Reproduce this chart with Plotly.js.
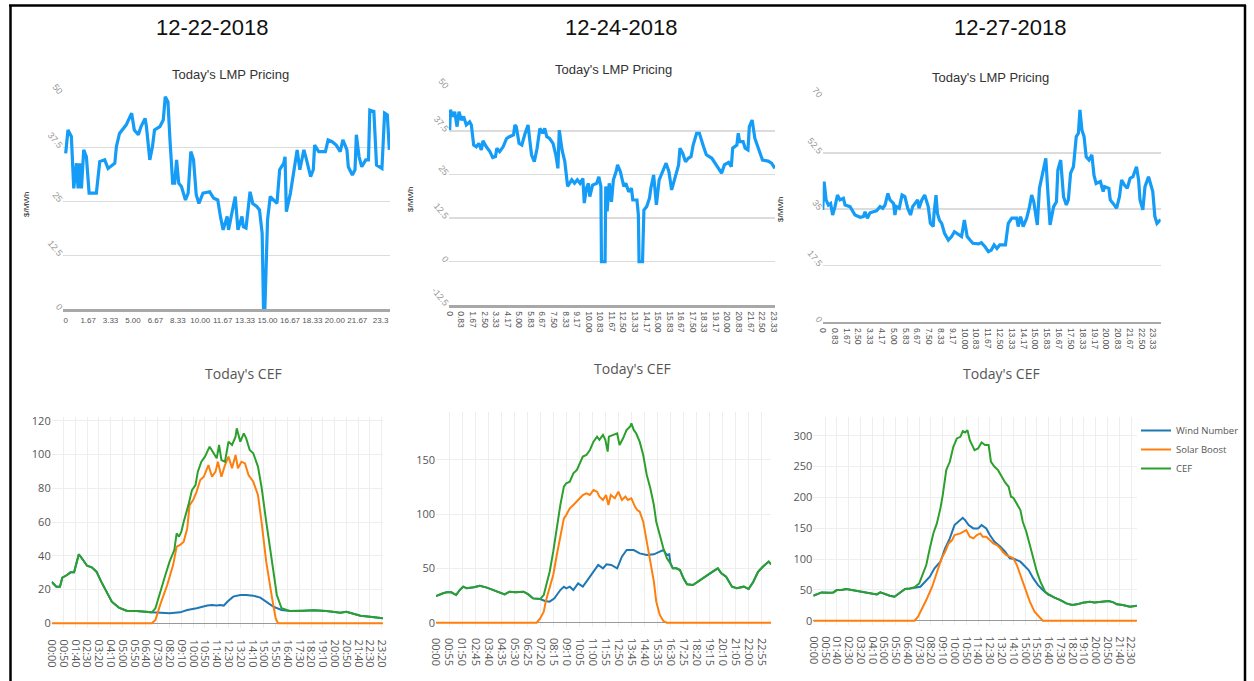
<!DOCTYPE html>
<html>
<head>
<meta charset="utf-8">
<script src="https://cdn.plot.ly/plotly-3.0.1.min.js"></script>
<style>html,body{margin:0;padding:0;background:#fff;}#chart{width:1254px;height:681px;}</style>
</head>
<body>
<div id="chart"></div>
<script>
// ---------------- DATA ----------------
const dateLabels = ["12-22-2018", "12-24-2018", "12-27-2018"];
const dayStamps = ["2018-12-22", "2018-12-24", "2018-12-27"];

// LMP pricing ($/MWh) vs hour of day
const lmp1Hours = [0,0.17,0.42,0.6,0.8,0.92,1.04,1.17,1.34,1.54,1.74,2.28,2.53,2.9,3.15,3.65,3.77,4.0,4.5,4.9,5.1,5.4,5.6,5.9,6.0,6.25,6.45,6.6,7.0,7.25,7.4,7.6,7.75,7.95,8.1,8.24,8.4,8.6,8.9,9.1,9.3,9.5,9.7,9.9,10.2,10.7,11.0,11.3,11.5,11.7,12.0,12.1,12.3,12.6,12.8,13.1,13.2,13.4,13.7,13.9,14.2,14.4,14.6,14.7,14.8,15.0,15.2,15.7,15.9,16.2,16.3,16.4,16.7,16.9,17.2,17.4,17.7,17.9,18.2,18.4,18.5,18.8,19.3,19.5,19.8,20.1,20.4,20.6,20.9,21.0,21.3,21.5,21.6,21.8,22.0,22.3,22.5,22.6,22.9,23.1,23.5,23.7,23.9,24.05];
const lmp1Price = [36.1,41.5,40,28,33.8,28,33.8,28,36.9,35.3,26.9,26.9,34.2,34.6,32.6,33.8,37.7,40.7,42.7,45.4,41.5,40.4,42.3,44.2,42.3,34.6,37.7,41.5,42.3,43.8,49.2,48,39.2,29.2,29.2,34.6,29.2,28.4,25.3,26.9,36.5,34.6,26.5,24.5,26.9,27.2,25.7,25.3,21.5,18.4,21.5,18.4,21.5,26.1,18.4,21.5,19.1,18.8,27.2,24.5,23.8,23,17.6,0,0,20.7,26.1,24.5,32.3,33.8,35.3,22.6,26.9,30.7,36.9,32.3,36.9,34.6,30.7,32.3,38,36.5,36.5,39.2,38.8,38,36.5,39.2,36.9,33,31.1,32.3,40.4,35.3,33,34.6,34.6,46.1,45.8,33.4,32.6,45.4,45,36.9];

const lmp2Hours = [0,0.05,0.24,0.36,0.53,0.67,0.84,1.0,1.2,1.44,1.56,1.73,1.92,2.1,2.28,2.4,2.64,2.9,3.1,3.3,3.4,3.6,3.85,4.1,4.3,4.6,4.7,4.8,5.0,5.2,5.4,5.65,5.77,5.9,6.1,6.3,6.5,6.7,6.85,7.0,7.2,7.45,7.65,7.8,7.9,8.1,8.3,8.5,8.8,9.0,9.2,9.4,9.6,9.7,9.86,10.0,10.1,10.3,10.6,10.75,10.9,10.94,11.2,11.25,11.35,11.5,11.66,11.8,12.0,12.1,12.3,12.55,12.7,12.9,13.1,13.2,13.5,13.6,13.65,13.9,14.0,14.2,14.4,14.5,14.7,14.9,15.1,15.4,15.6,15.8,16.0,16.2,16.5,16.6,16.8,17.0,17.2,17.4,17.55,17.8,18.0,18.3,18.5,18.9,19.2,19.6,19.8,20.1,20.3,20.4,20.7,20.8,20.9,21.15,21.3,21.5,21.6,21.8,22.0,22.2,22.55,22.95,23.2,23.44];
const lmp2Price = [37.8,43.6,41.7,43.1,38.8,43.1,40.7,41.7,39.3,40.2,39.3,33.5,33,34,32.1,34.7,33,31.6,29.9,30.2,32.6,31.6,33,35.4,35.9,36.4,39.3,38.8,34,33.5,36.4,39.3,35,30.7,28.7,32.6,38.3,36.9,38.3,35.9,35.4,34,30.7,26.8,37.8,32.1,28.7,21.6,23.5,22.5,23.5,22.5,23.9,16.8,21.1,22.5,18.7,22,22.5,24.4,21.6,0,0,21.6,14.4,22.5,17.2,23.5,25.9,27.8,25.9,21.6,22.5,20.1,21.1,17.7,17.7,13.4,0,0,14.8,15.8,18.2,21.1,24.9,16.3,23.5,26.3,28.3,25.9,20.6,23.5,27.8,32.6,31.1,28.7,29.7,30.2,33.5,36.9,36.9,33,30.7,29.7,27.8,25.4,27.8,28.5,27.3,32.6,33.5,36.9,34.5,34.5,32.6,32.1,38.8,40.7,35.4,33,29.2,28.9,28.3,26.8];

const lmp3Hours = [0,0.1,0.24,0.4,0.56,0.7,0.87,1.04,1.22,1.46,1.58,1.93,2.28,2.64,2.87,2.99,3.15,3.34,3.8,4.05,4.24,4.4,4.6,4.75,5.0,5.1,5.2,5.4,5.6,5.8,6.0,6.2,6.35,6.5,6.7,6.8,7.0,7.2,7.45,7.6,7.8,7.86,8.0,8.1,8.24,8.4,8.6,8.87,9.1,9.3,9.6,9.8,10.0,10.2,10.4,10.6,11.0,11.2,11.46,11.7,11.9,12.1,12.3,12.5,12.9,13.1,13.35,13.7,13.8,13.97,14.15,14.4,14.6,14.75,14.9,15.05,15.15,15.3,15.45,15.6,15.75,15.9,16.05,16.3,16.5,16.6,16.8,17.0,17.2,17.34,17.5,17.7,17.9,18.05,18.16,18.3,18.45,18.6,18.8,19.0,19.15,19.3,19.6,19.8,19.9,20.2,20.3,20.5,20.75,20.95,21.1,21.3,21.5,21.7,21.9,22.15,22.3,22.4,22.6,22.75,23.0,23.3,23.45,23.6,23.86];
const lmp3Price = [34.8,43.6,37.9,36.3,36.8,33.2,35.8,39.4,37.9,38.4,36.3,35.8,33.2,32.5,32.7,34.2,32.2,33.9,34.5,35.8,35.3,36.3,39.9,37.9,36.8,33.2,35.8,35.3,39.4,38.9,35.3,33.2,35.8,36.8,37.9,35.3,37.9,39.4,35.8,30.6,29.6,33.7,39.4,33.7,31.6,30.6,27.5,25.4,26.5,28,27,26.5,31.6,26.5,25.4,24.4,24.2,24.6,23.3,21.8,22.3,23.9,22.8,23.9,23.9,30.6,32.2,32.2,29.6,32.7,29.6,32.2,35.8,39.4,37.3,33.2,30.1,41.5,44.6,47.2,50.8,39.9,30.1,35.8,37.3,47.2,50.3,38.9,36.3,37.9,46.2,48.2,57.6,58.6,65.9,59.6,57.6,51.3,50.3,51.9,45.6,43,43.6,40.5,42,41.5,37.9,36.8,35.3,38.9,44.1,42.5,41.5,44.6,45.1,48.2,44.1,37.9,34.8,42,45.1,40.5,32.7,30.6,31.8];

// LMP tick labels
const lmp1TickText = ["0","1.67","3.33","5.00","6.67","8.33","10.00","11.67","13.33","15.00","16.67","18.33","20.00","21.67","23.3"];
const lmp23TickText = ["0","0.83","1.67","2.50","3.33","4.17","5.00","5.83","6.67","7.50","8.33","9.17","10.00","10.83","11.67","12.50","13.33","14.17","15.00","15.83","16.67","17.50","18.33","19.17","20.00","20.83","21.67","22.50","23.33"];
const lmp1YTicks = [0,12.5,25,37.5,50];
const lmp2YTicks = [-12.5,0,12.5,25,37.5,50];
const lmp3YTicks = [0,17.5,35,52.5,70];

// CEF series (time of day, value)
const cef1Times = ["00:00","00:20","00:35","00:45","01:05","01:20","01:35","01:45","01:55","02:10","02:30","02:50","03:10","03:30","03:55","04:15","04:45","05:20","06:00","06:30","07:05","07:20","07:40","08:00","08:20","08:40","08:50","09:00","09:10","09:20","09:40","09:55","10:10","10:20","10:35","10:50","11:10","11:25","11:40","11:50","12:00","12:15","12:30","12:45","13:00","13:05","13:20","13:35","13:45","14:00","14:15","14:35","14:50","15:10","15:35","15:55","16:15","16:50","17:50","18:30","19:25","20:25","20:50","21:20","21:50","22:30","23:00","23:25"];
const cef1Values = [24.5,21.7,21.7,27,28.6,30.2,30.2,36.5,40.9,38.1,34.1,33.2,30.6,24.7,17.8,12.8,9.3,7.3,7.3,6.9,6.5,8.9,18.7,27.6,36.5,43.4,53.3,51.3,54.3,60.2,70,78.9,81.9,89.8,95.7,98.7,104.6,100.7,97.7,105.6,96.7,95.7,107.6,105.6,110.5,115.5,107.6,112.5,109.5,102.6,100.7,92.8,80.9,60.2,36.5,16.8,8.9,7.3,7.5,7.7,7.3,6.3,6.9,5.9,4.5,3.9,3.6,3.0];
const wind1Times = ["07:05","08:20","09:05","09:35","10:15","11:00","11:20","11:40","11:55","12:10","12:25","12:50","13:20","13:45","14:15","14:45","15:10","15:40","16:15","16:40"];
const wind1Values = [6.5,5.9,6.5,7.9,8.9,10.5,10.9,10.5,10.9,10.5,12.8,15.8,16.8,16.8,16.4,15.2,12.8,9.9,7.9,7.3];
const solar1Times = ["00:00","07:05","07:20","07:40","08:10","08:35","08:50","09:05","09:20","09:35","09:45","10:00","10:15","10:30","10:45","11:05","11:20","11:35","11:45","12:00","12:15","12:30","12:45","13:00","13:10","13:25","13:40","13:55","14:15","14:35","14:50","15:10","15:35","15:50","16:00","23:25"];
const solar1Values = [0,0,2,10.9,22.7,34.5,45.4,46.4,48.4,56.2,70,73,78,84.9,86.8,93.7,86.8,89.8,95.7,86.8,93.7,98.7,91.8,99.7,91.8,95.7,94.7,87.8,83.9,76,60.2,36.5,14.8,3,0,0];

const cef2Times = ["00:00","00:15","00:30","00:45","01:05","01:25","01:40","01:55","02:10","02:40","03:05","03:35","04:00","04:30","04:50","05:10","05:35","06:10","06:30","06:50","07:20","07:35","07:45","08:00","08:15","08:30","08:45","09:00","09:10","09:25","09:40","09:55","10:10","10:20","10:35","10:50","11:05","11:20","11:30","11:45","11:55","12:05","12:10","12:30","12:45","12:55","13:10","13:25","13:40","13:45","13:55","14:05","14:20","14:35","14:50","15:05","15:20","15:30","15:45","16:00","16:15","16:30","16:40","16:55","17:10","17:25","17:40","18:05","18:35","19:05","19:30","19:50","20:05","20:25","20:50","21:10","21:40","22:00","22:20","22:40","23:00","23:25","23:35"];
const cef2Values = [24.5,26.1,27.1,28,28,25.5,30.1,33.2,31.7,32.6,34.1,32.3,30.1,28,26.1,28.6,28,28.6,26.1,22.4,21.8,25.5,34.7,47,65.5,87,108.5,125.4,128.5,130,137.7,140.8,148.5,153.1,154.6,159.2,166.9,171.5,168.5,173.1,168.5,157.7,171.5,173.1,174.6,163.8,170,177.7,180.8,183.8,177.7,174.6,166.9,154.6,136.2,123.9,108.5,93.1,80.8,68.6,59.3,54.7,50.1,50.1,48.6,40.9,35.4,34.7,39.3,44,47.6,50.1,45.5,42.4,33.2,31.7,33.2,31,37.8,47,51.6,56.3,53.8];
const wind2Times = ["07:20","07:40","08:00","08:20","08:45","09:00","09:10","09:25","09:40","10:00","10:20","10:45","11:05","11:25","11:45","12:00","12:20","12:45","13:05","13:25","13:55","14:20","14:50","15:20","15:45","16:00","16:15","16:25"];
const wind2Values = [21.8,20,19.4,22.4,30.1,33.2,31.7,33.2,30.1,36.3,33.2,40.9,47,53.2,50.1,53.8,53.2,50.1,60.9,67,67,63.9,62.4,63,65.5,67,62.4,63];
const solar2Times = ["00:00","07:05","07:20","07:35","07:45","08:00","08:15","08:30","08:45","09:00","09:10","09:25","09:40","09:55","10:10","10:20","10:35","10:50","11:05","11:20","11:30","11:45","11:58","12:08","12:18","12:35","12:50","13:05","13:20","13:30","13:45","14:00","14:10","14:20","14:35","14:50","15:05","15:20","15:30","15:45","16:00","16:15","23:35"];
const solar2Values = [0,0,4,10.1,20.9,33.2,44,62.4,77.8,96.2,99.3,105.4,108.5,111.6,114.7,117.7,119.3,117.7,122.3,120.8,116.2,113.1,117.7,108.5,117.7,114.7,120.8,113.1,116.2,113.1,114.7,107,103.9,102.4,93.1,74.7,56.3,37.8,19.4,7.1,1.5,0,0];

const cef3Times = ["00:00","00:15","00:35","01:05","01:25","01:40","02:00","02:20","02:45","03:05","03:30","03:55","04:15","04:30","04:45","05:05","05:25","05:45","06:10","06:30","06:50","07:10","07:30","07:45","08:00","08:15","08:30","08:45","09:00","09:10","09:25","09:40","09:55","10:10","10:25","10:35","10:45","10:55","11:05","11:15","11:25","11:40","11:55","12:10","12:25","12:35","12:50","13:05","13:20","13:35","13:50","14:00","14:10","14:25","14:40","14:50","15:05","15:20","15:35","15:50","16:05","16:25","16:45","17:05","17:30","17:55","18:20","18:40","19:05","19:35","19:55","20:25","20:55","21:15","21:30","21:55","22:25","22:55"];
const cef3Values = [40.5,42.7,45.9,45.4,45.9,49.7,49.7,51.4,49.7,48.1,47,44.3,42.7,42.7,45.9,42.7,40.5,38.9,45.9,51.4,52.4,54.1,60.5,74.1,90.3,117.3,141.6,157.8,182.2,203.8,244.3,257.8,282.2,295.7,298.4,307.6,305.4,309.2,293,284.9,276.8,279.5,289.2,284.9,284.9,257.8,249.7,244.3,233.5,224.3,217.3,201.1,199.5,190.3,179.5,160.5,144.3,122.7,101.1,79.5,63.2,47,41.6,37.3,33.5,28.1,25.4,26.5,29.2,30.8,29.7,30.8,31.9,29.7,26.5,25.4,22.7,24.3];
const wind3Times = ["07:10","07:35","07:55","08:15","08:35","09:00","09:20","09:40","10:00","10:15","10:35","10:45","11:00","11:20","11:40","11:55","12:15","12:30","12:50","13:15","13:35","13:55","14:15","14:40","15:00","15:15","15:35","15:55","16:15","16:40"];
const wind3Values = [54.1,55.1,63.2,71.4,84.9,95.7,117.3,133.5,155.1,160.5,167,163.2,155.1,149.7,149.7,155.1,149.7,138.9,128.1,120,111.9,101.1,100,95.7,87.6,82.2,68.6,57.8,49.7,41.6];
const solar3Times = ["00:00","07:10","07:25","07:40","08:00","08:25","08:45","09:05","09:20","09:35","09:50","10:00","10:25","10:35","10:50","11:05","11:20","11:35","11:50","12:00","12:15","12:30","12:45","13:00","13:15","13:25","13:40","13:55","14:10","14:25","14:40","15:00","15:20","15:40","16:05","16:15","22:55"];
const solar3Values = [0,0,6.5,17.3,33.5,55.1,79.5,101.1,111.9,125.4,130.8,138.9,141.6,144.3,147,136.2,133.5,138.9,141.6,136.2,136.2,130.8,125.4,122.7,117.3,111.9,106.5,103.8,101.1,90.3,74.1,52.4,30.8,14.6,3.8,0,0];

const seriesNames = ["Wind Number", "Solar Boost", "CEF"];
const seriesColors = ["#1f77b4", "#ff7f0e", "#2ca02c"];

// ---------------- HELPERS ----------------
const W = 1254, H = 681;
const px = x => x / W;
const py = y => 1 - y / H;
const stamp = (day, times) => times.map(t => day + " " + t);
// wind is drawn under CEF where they coincide (night); join the visible day segment with those CEF points
function windFull(windT, windV, cefT, cefV) {
  const first = windT[0], last = windT[windT.length - 1];
  const t = [], v = [];
  cefT.forEach((tt, i) => { if (tt < first) { t.push(tt); v.push(cefV[i]); } });
  windT.forEach((tt, i) => { t.push(tt); v.push(windV[i]); });
  cefT.forEach((tt, i) => { if (tt > last) { t.push(tt); v.push(cefV[i]); } });
  return [t, v];
}

const LMP_COLOR = "#159cf7";
const traces = [];
[[lmp1Hours, lmp1Price], [lmp2Hours, lmp2Price], [lmp3Hours, lmp3Price]].forEach((d, i) => {
  traces.push({
    x: d[0], y: d[1], type: "scatter", mode: "lines",
    xaxis: i === 0 ? "x" : "x" + (i + 1), yaxis: i === 0 ? "y" : "y" + (i + 1),
    line: { color: LMP_COLOR, width: 3.2 }, showlegend: false, hoverinfo: "skip"
  });
});

const cefSets = [
  [wind1Times, wind1Values, solar1Times, solar1Values, cef1Times, cef1Values],
  [wind2Times, wind2Values, solar2Times, solar2Values, cef2Times, cef2Values],
  [wind3Times, wind3Values, solar3Times, solar3Values, cef3Times, cef3Values]
];
cefSets.forEach((s, i) => {
  const ax = i + 4;
  const [wt, wv] = windFull(s[0], s[1], s[4], s[5]);
  const series = [[wt, wv], [s[2], s[3]], [s[4], s[5]]];
  series.forEach((sv, k) => {
    traces.push({
      x: stamp(dayStamps[i], sv[0]), y: sv[1], type: "scatter", mode: "lines",
      xaxis: "x" + ax, yaxis: "y" + ax, name: seriesNames[k],
      line: { color: seriesColors[k], width: 2 },
      showlegend: i === 2, hoverinfo: "skip"
    });
  });
});

// ---------------- LAYOUT ----------------
const lmpFont = "Liberation Sans, Arial, sans-serif";
const cefFont = "Open Sans, verdana, arial, sans-serif";
function lmpX(dom, range, vals, text, angle, size) {
  return { domain: dom, range: range, tickmode: "array", tickvals: vals, ticktext: text,
    tickangle: angle, tickfont: { family: lmpFont, size: size, color: "#555" },
    showgrid: false, zeroline: false, showline: true, linecolor: "#a8a8a8", linewidth: 2.5,
    ticks: "", ticklen: 0, ticklabelstandoff: 2, fixedrange: true };
}
function lmpY(dom, range, vals, anchor) {
  return { domain: dom, range: range, tickmode: "array", tickvals: vals, ticktext: vals.map(String),
    tickangle: 50, tickfont: { family: lmpFont, size: 9, color: "#9a9a9a" },
    gridcolor: "#dcdcdc", gridwidth: 1.5, zeroline: false, showline: false, ticks: "", anchor: anchor, fixedrange: true };
}
function cefX(dom, day, end, dtickMin, anchor) {
  return { type: "date", domain: dom, range: [day + " 00:00", day + " " + end],
    tickformat: "%H:%M", dtick: dtickMin * 60000, tick0: day + " 00:00", tickangle: 90,
    tickfont: { family: cefFont, size: 11, color: "#555" }, gridcolor: "#eeeeee", gridwidth: 1,
    ticks: "outside", ticklen: 8, tickcolor: "rgba(0,0,0,0)",
    showline: false, zeroline: false, anchor: anchor, fixedrange: true };
}
function cefY(dom, range, dtick, anchor) {
  return { domain: dom, range: range, dtick: dtick, tick0: 0,
    tickfont: { family: cefFont, size: 11, color: "#555" }, gridcolor: "#eeeeee", gridwidth: 1,
    zeroline: true, zerolinecolor: "#999", zerolinewidth: 1, showline: false, anchor: anchor, fixedrange: true };
}
const lmp23Vals = lmp23TickText.map(Number);
const lmp1Vals = [0,1.67,3.33,5.0,6.67,8.33,10.0,11.67,13.33,15.0,16.67,18.33,20.0,21.67,23.4];

const layout = {
  width: W, height: H, margin: { l: 0, r: 0, t: 0, b: 0 },
  paper_bgcolor: "#fff", plot_bgcolor: "rgba(0,0,0,0)",
  xaxis: lmpX([px(63), px(390)], [-0.2, 24.1], lmp1Vals, lmp1TickText, 0, 8),
  yaxis: lmpY([py(309.3), py(93.3)], [0, 50], lmp1YTicks, "x"),
  xaxis2: Object.assign(lmpX([px(449), px(775)], [-0.05, 23.45], lmp23Vals, lmp23TickText, 90, 8.5), { anchor: "y2" }),
  yaxis2: lmpY([py(305), py(87.7)], [-12.5, 50], lmp2YTicks, "x2"),
  xaxis3: Object.assign(lmpX([px(822.7), px(1160.7)], [0, 23.86], lmp23Vals, lmp23TickText, 90, 8.5), { anchor: "y3" }),
  yaxis3: lmpY([py(321.7), py(96.7)], [0, 70], lmp3YTicks, "x3"),
  xaxis4: cefX([px(51.7), px(382.9)], dayStamps[0], "23:25", 50, "y4"),
  yaxis4: cefY([py(628.4), py(417.3)], [-3, 122], 20, "x4"),
  xaxis5: cefX([px(436), px(771.1)], dayStamps[1], "23:35", 55, "y5"),
  yaxis5: cefY([py(626.7), py(411.7)], [-3.7, 194.5], 50, "x5"),
  xaxis6: cefX([px(813.3), px(1136.9)], dayStamps[2], "22:55", 50, "y6"),
  yaxis6: cefY([py(625), py(416.7)], [-7, 331], 50, "x6"),
  showlegend: true,
  legend: { x: px(1136), y: py(416), xanchor: "left", yanchor: "top", bgcolor: "rgba(0,0,0,0)",
    font: { family: cefFont, size: 9.5, color: "#555" } },
  annotations: [],
  shapes: [
    { type: "line", xref: "paper", yref: "paper", x0: px(9), x1: px(1246), y0: py(5.5), y1: py(5.5), line: { color: "#000", width: 2.5 } },
    { type: "line", xref: "paper", yref: "paper", x0: px(10.5), x1: px(10.5), y0: py(5), y1: 0, line: { color: "#000", width: 2.5 } },
    { type: "line", xref: "paper", yref: "paper", x0: px(1245), x1: px(1245), y0: py(5), y1: 0, line: { color: "#000", width: 2.5 } }
  ]
};

function ann(text, x, y, font, extra) {
  layout.annotations.push(Object.assign({ text: text, xref: "paper", yref: "paper", x: px(x), y: py(y),
    xanchor: "center", yanchor: "middle", showarrow: false, font: font }, extra || {}));
}
const dateX = [212, 621, 1010];
dateLabels.forEach((d, i) => ann(d, dateX[i], 28, { family: lmpFont, size: 22, color: "#111" }));
const lmpTitlePos = [[230, 75], [613, 69], [990, 77]];
lmpTitlePos.forEach(p => ann("Today's LMP Pricing", p[0], p[1], { family: lmpFont, size: 13, color: "#333" }));
const cefTitlePos = [[243, 373], [632, 368], [1002, 373]];
cefTitlePos.forEach(p => ann("Today's CEF", p[0], p[1], { family: cefFont, size: 14, color: "#555" }));
const unitPos = [[26, 205], [410, 200], [781, 210]];
unitPos.forEach(p => ann("$/MWh", p[0], p[1], { family: lmpFont, size: 8, color: "#222" }, { textangle: -90 }));

Plotly.newPlot("chart", traces, layout, { staticPlot: true, displayModeBar: false });
</script>
</body>
</html>
